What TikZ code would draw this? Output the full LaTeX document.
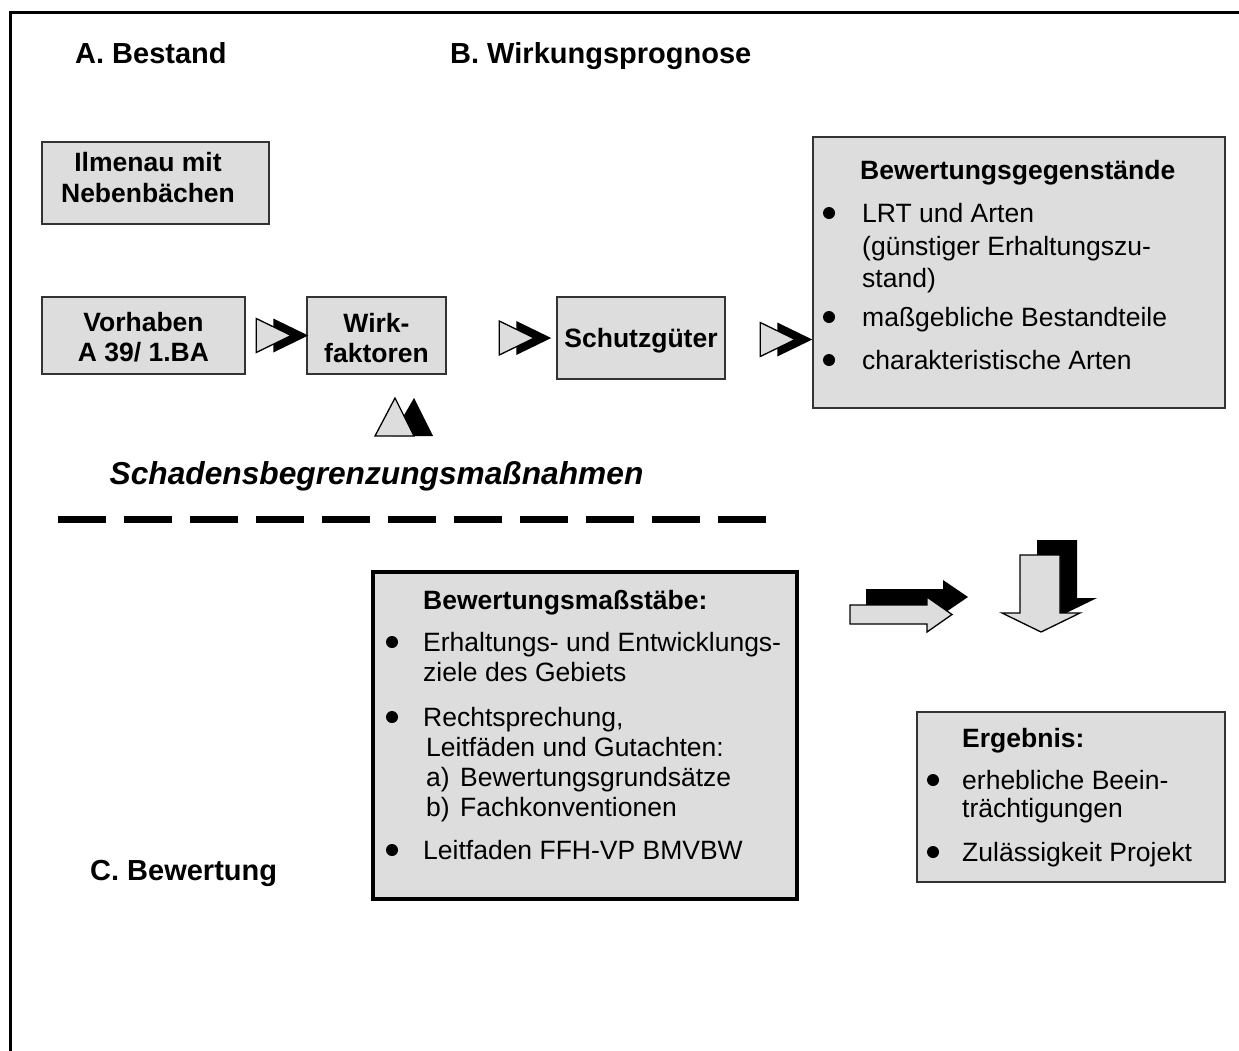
\documentclass[tikz,border=0pt]{standalone}
\usepackage{fontspec}
\setmainfont{Liberation Sans}
\usetikzlibrary{calc}
\definecolor{boxfill}{HTML}{DDDDDD}
\definecolor{boxline}{HTML}{333333}
\begin{document}
\begin{tikzpicture}[x=1pt,y=-1pt,
 box/.style={draw=boxline, line width=1.5pt, fill=boxfill, inner sep=0pt},
 txt/.style={inner sep=0pt, anchor=west, text height=19pt, text depth=0pt, font=\fontsize{26.5}{31}\selectfont},
 txtb/.style={txt, font=\fontsize{26.5}{31}\selectfont\bfseries},
 txtc/.style={txtb, anchor=center},
 hdr/.style={inner sep=0pt, anchor=west, text height=21pt, text depth=0pt, font=\fontsize{29}{34}\selectfont\bfseries},
 lightshape/.style={fill=boxfill, draw=black, line width=1.3pt, line join=miter},
 chev/.pic={
   \fill[black] (-35,-17) -- (0,0) -- (-35,17) -- cycle;
   \filldraw[lightshape] (-52,-17) -- (-17,0) -- (-52,17) -- cycle;
 }]
\useasboundingbox (0,0) rectangle (1239,1050);
% frame
\draw[line width=3pt] (10,1060) -- (10,12) -- (1250,12);

% section headings
\node[hdr] (hA) at (75,53) {A. Bestand};
\node[hdr] (hB) at (450,53) {B. Wirkungsprognose};
\node[hdr] (hC) at (90,870) {C. Bewertung};

% boxes
\node[box, minimum width=227pt, minimum height=82pt] (ilm) at (155.5,183) {};
\node[txtc] (ilm1) at (148,162) {Ilmenau mit};
\node[txtc] (ilm2) at (148,193) {Nebenbächen};

\node[box, minimum width=203pt, minimum height=77pt] (vor) at (143.5,335.5) {};
\node[txtc] (vor1) at (143.5,322) {Vorhaben};
\node[txtc] (vor2) at (143.5,352) {A 39/ 1.BA};

\node[box, minimum width=139pt, minimum height=77pt] (wirk) at (376.5,335.5) {};
\node[txtc] (wirk1) at (376.5,323) {Wirk-};
\node[txtc] (wirk2) at (376.5,353) {faktoren};

\node[box, minimum width=168pt, minimum height=82pt] (schutz) at (641,338) {};
\node[txtc] (schutz1) at (641,338) {Schutzgüter};

\node[box, minimum width=412pt, minimum height=271pt] (bg) at (1019,272.5) {};
\node[txtb] (bg0) at (860,170) {Bewertungsgegenstände};
\fill (829,213) circle (6pt);
\node[txt] (bg1) at (862,213) {LRT und Arten};
\node[txt] (bg2) at (862,246) {(günstiger Erhaltungszu-};
\node[txt] (bg3) at (862,278) {stand)};
\fill (829,317) circle (6pt);
\node[txt] (bg4) at (862,317) {maßgebliche Bestandteile};
\fill (829,360) circle (6pt);
\node[txt] (bg5) at (862,360) {charakteristische Arten};

% chevron arrows
\pic at ([xshift=2pt]wirk.west) {chev};
\pic at ([xshift=-5pt]schutz.west) {chev};
\pic at ($(bg.west|-schutz.west)+(0,1.5)$) {chev};

% up triangles
\fill[black] (392,436) -- (414,398) -- (433,436) -- cycle;
\filldraw[lightshape] (375,436) -- (395,398) -- (414,436) -- cycle;

\node[inner sep=0pt, text height=22pt, text depth=0pt, font=\fontsize{31.7}{36}\selectfont\bfseries\itshape] (schad) at (376.5,473) {Schadensbegrenzungsmaßnahmen};

% dashed separator
\draw[line width=7pt, dash pattern=on 48pt off 18pt] (58,519.5) -- (767,519.5);

% Bewertungsmassstaebe
\node[box, draw=black, line width=4pt, minimum width=424pt, minimum height=327pt] (bm) at (585,735.5) {};
\node[txtb] (bm0) at (423,600) {Bewertungsmaßstäbe:};
\fill (392,642) circle (6pt);
\node[txt] (bm1) at (423,642) {Erhaltungs- und Entwicklungs-};
\node[txt] (bm2) at (423,672) {ziele des Gebiets};
\fill (392,717) circle (6pt);
\node[txt] (bm3) at (423,717) {Rechtsprechung,};
\node[txt] (bm4) at (426,747) {Leitfäden und Gutachten:};
\node[txt] (bm5a) at (426,777) {a)};
\node[txt] (bm5) at (460,777) {Bewertungsgrundsätze};
\node[txt] (bm6a) at (426,807) {b)};
\node[txt] (bm6) at (460,807) {Fachkonventionen};
\fill (392,850) circle (6pt);
\node[txt] (bm7) at (423,850) {Leitfaden FFH-VP BMVBW};

% block arrows
\fill[black] (866,589) -- (943,589) -- (943,580) -- (968,597) -- (943,614) -- (943,608) -- (866,608) -- cycle;
\filldraw[lightshape] (850,605) -- (927,605) -- (927,597) -- (952,614.5) -- (927,632) -- (927,624) -- (850,624) -- cycle;
\fill[black] (1037,540) -- (1077,540) -- (1077,598) -- (1097,598) -- (1058,617) -- (1019,598) -- (1037,598) -- cycle;
\filldraw[lightshape] (1020,555) -- (1060,555) -- (1060,613) -- (1080,613) -- (1041,632) -- (1002,613) -- (1020,613) -- cycle;

% Ergebnis
\node[box, minimum width=308pt, minimum height=170pt] (erg) at (1071,797) {};
\node[txtb] (erg0) at (962,738) {Ergebnis:};
\fill (933,780) circle (6pt);
\node[txt] (erg1) at (962,780) {erhebliche Beein-};
\node[txt] (erg2) at (962,808) {trächtigungen};
\fill (933,852) circle (6pt);
\node[txt] (erg3) at (962,852) {Zulässigkeit Projekt};
\end{tikzpicture}
\end{document}
